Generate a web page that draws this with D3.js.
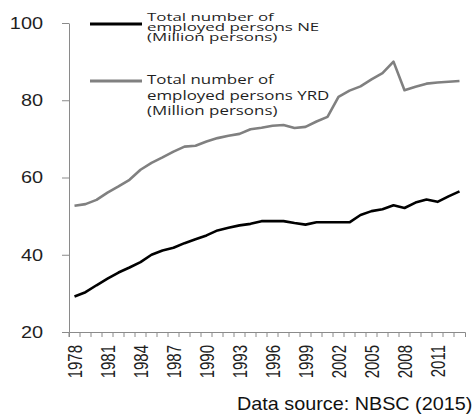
<!DOCTYPE html>
<html>
<head>
<meta charset="utf-8">
<script src="https://cdn.jsdelivr.net/npm/d3@7"></script>
<style>
  body { margin: 0; background: #fff; }
  svg { display: block; }
</style>
</head>
<body>
<script>
// Employed persons, million, by region and year
const years = [1978, 1979, 1980, 1981, 1982, 1983, 1984, 1985, 1986, 1987, 1988, 1989,
               1990, 1991, 1992, 1993, 1994, 1995, 1996, 1997, 1998, 1999, 2000, 2001,
               2002, 2003, 2004, 2005, 2006, 2007, 2008, 2009, 2010, 2011, 2012, 2013];
const neValues = [29.2, 30.3, 32.1, 33.8, 35.4, 36.7, 38.1, 40.0, 41.1, 41.8, 43.0, 44.0,
                  45.0, 46.3, 47.0, 47.6, 48.0, 48.7, 48.7, 48.7, 48.2, 47.8, 48.4, 48.4,
                  48.4, 48.4, 50.3, 51.3, 51.8, 52.8, 52.1, 53.5, 54.3, 53.7, 55.1, 56.4];
const yrdValues = [52.7, 53.1, 54.2, 56.1, 57.7, 59.4, 62.0, 63.8, 65.2, 66.7, 68.0, 68.2,
                   69.3, 70.2, 70.8, 71.3, 72.5, 72.9, 73.4, 73.6, 72.8, 73.1, 74.5, 75.7,
                   80.9, 82.5, 83.6, 85.4, 87.0, 90.0, 82.6, 83.5, 84.3, 84.6, 84.8, 85.0];
const yTicks = [20, 40, 60, 80, 100];
const xTickLabels = ["1978", "1981", "1984", "1987", "1990", "1993", "1996", "1999",
                     "2002", "2005", "2008", "2011"];
const neLegend = ["Total number of", "employed persons NE", "(Million persons)"];
const yrdLegend = ["Total number of", "employed persons YRD", "(Million persons)"];
const sourceNote = "Data source: NBSC (2015)";

const W = 476, H = 416;
const plot = { left: 69, right: 465, top: 23, bottom: 332 };
const axisColor = "#8a8a8a";

const svg = d3.select("body").append("svg").attr("width", W).attr("height", H);

const x = d3.scaleBand().domain(years).range([plot.left, plot.right]);
const y = d3.scaleLinear().domain([20, 100]).range([plot.bottom, plot.top]);

// Y axis
const yAxis = svg.append("g")
  .attr("transform", `translate(${plot.left},0)`)
  .call(d3.axisLeft(y).tickValues(yTicks).tickSize(7).tickSizeOuter(0).tickPadding(19));
yAxis.select(".domain").attr("stroke", axisColor);
yAxis.selectAll(".tick line").attr("stroke", axisColor);
const ySx = 1.17;
yAxis.selectAll(".tick text")
  .attr("font-family", "'Liberation Sans', Arial, sans-serif")
  .attr("font-size", 17)
  .attr("fill", "#1f1f1f")
  .attr("x", -26 / ySx)
  .attr("transform", `scale(${ySx},1)`);

// X axis: tick marks on category boundaries, labels every third year
const xAxis = svg.append("g")
  .attr("transform", `translate(0,${plot.bottom})`)
  .call(d3.axisBottom(x)
    .tickSize(5).tickSizeOuter(5)
    .tickFormat(d => xTickLabels.includes(String(d)) ? String(d) : ""));
xAxis.select(".domain").attr("stroke", axisColor);
xAxis.selectAll(".tick line")
  .attr("stroke", axisColor)
  .attr("transform", `translate(${-x.bandwidth() / 2},0)`);
xAxis.selectAll(".tick text")
  .attr("font-family", "'Liberation Sans', Arial, sans-serif")
  .attr("font-size", 15)
  .attr("fill", "#1f1f1f")
  .attr("text-anchor", "end")
  .attr("x", -13)
  .attr("y", 0)
  .attr("dy", "0.35em")
  .attr("transform", "rotate(-90) scale(1,1.4)");

// Series lines
const line = values => d3.line()
  .x((d, i) => x(years[i]) + x.bandwidth() / 2)
  .y(d => y(d))(values);

svg.append("path")
  .attr("d", line(yrdValues))
  .attr("fill", "none")
  .attr("stroke", "#808080")
  .attr("stroke-width", 2.6)
  .attr("stroke-linejoin", "round");

svg.append("path")
  .attr("d", line(neValues))
  .attr("fill", "none")
  .attr("stroke", "#000")
  .attr("stroke-width", 2.6)
  .attr("stroke-linejoin", "round");

// Legend
const legendSx = 1.3;
function legendItem(color, lineY, lines, baselines, sy) {
  svg.append("line")
    .attr("x1", 90).attr("x2", 142)
    .attr("y1", lineY).attr("y2", lineY)
    .attr("stroke", color).attr("stroke-width", 3);
  lines.forEach((t, i) => {
    svg.append("g")
      .attr("transform", `translate(147,${baselines[i]})`)
      .append("text")
      .attr("transform", `scale(${legendSx},${sy})`)
      .attr("font-family", "'Open Sans', sans-serif")
      .attr("font-size", 13)
      .attr("fill", "#1f1f1f")
      .text(t);
  });
}
legendItem("#000", 24, neLegend, [21, 30.5, 40.5], 0.82);
legendItem("#808080", 81, yrdLegend, [84, 99.5, 115], 1);

// Source note
svg.append("g")
  .attr("transform", "translate(237,410)")
  .append("text")
  .attr("transform", "scale(1.1,1)")
  .attr("font-family", "'Liberation Sans', Arial, sans-serif")
  .attr("font-size", 18)
  .attr("fill", "#111")
  .text(sourceNote);
</script>
</body>
</html>
